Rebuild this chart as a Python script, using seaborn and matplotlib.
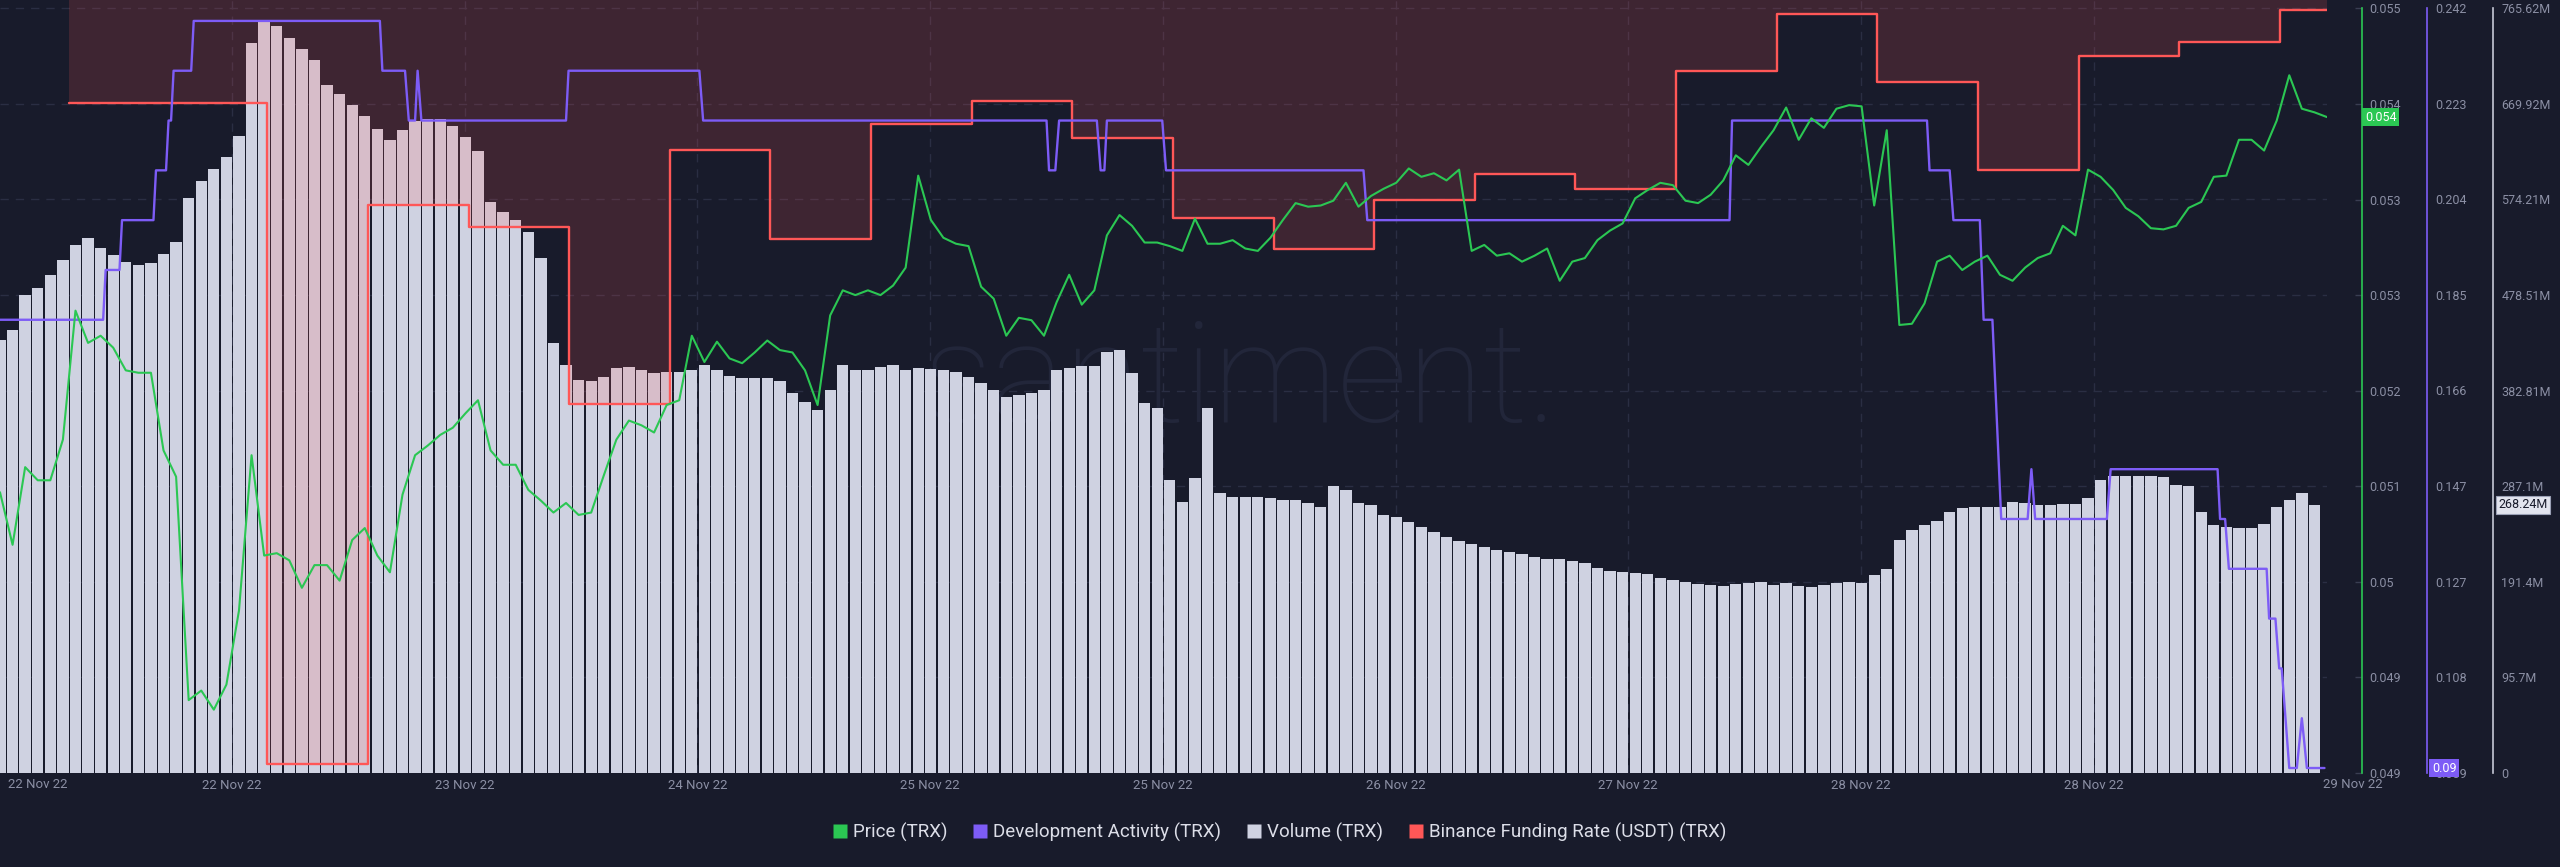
import numpy as np
import seaborn as sns
import matplotlib.pyplot as plt
import matplotlib.transforms as mtransforms
from matplotlib.lines import Line2D

# TRX, hourly samples; hour 0 = left edge of the chart
hours = list(range(186))

price = [
    0.05098, 0.05054, 0.05119, 0.05108, 0.05108, 0.05142, 0.05250, 0.05223, 0.05229, 0.05219,
    0.05200, 0.05198, 0.05198, 0.05133, 0.05111, 0.04924, 0.04932, 0.04916, 0.04937, 0.04999,
    0.05129, 0.05045, 0.05047, 0.05041, 0.05018, 0.05037, 0.05037, 0.05024, 0.05058, 0.05068,
    0.05045, 0.05031, 0.05096, 0.05129, 0.05137, 0.05146, 0.05152, 0.05164, 0.05175, 0.05133,
    0.05121, 0.05121, 0.05100, 0.05091, 0.05081, 0.05089, 0.05079, 0.05081, 0.05112, 0.05142,
    0.05158, 0.05154, 0.05148, 0.05171, 0.05175, 0.05229, 0.05207, 0.05224, 0.05210, 0.05206,
    0.05215, 0.05225, 0.05217, 0.05215, 0.05200, 0.05171, 0.05246, 0.05267, 0.05263, 0.05267,
    0.05263, 0.05271, 0.05286, 0.05363, 0.05326, 0.05311, 0.05306, 0.05304, 0.05270, 0.05260,
    0.05229, 0.05244, 0.05242, 0.05229, 0.05257, 0.05280, 0.05255, 0.05267, 0.05313, 0.05330,
    0.05321, 0.05307, 0.05307, 0.05304, 0.05300, 0.05327, 0.05306, 0.05306, 0.05309, 0.05302,
    0.05300, 0.05311, 0.05326, 0.05340, 0.05337, 0.05338, 0.05342, 0.05357, 0.05337, 0.05346,
    0.05352, 0.05357, 0.05369, 0.05362, 0.05365, 0.05359, 0.05368, 0.05300, 0.05305, 0.05296,
    0.05298, 0.05291, 0.05296, 0.05302, 0.05275, 0.05291, 0.05294, 0.05309, 0.05317, 0.05323,
    0.05344, 0.05351, 0.05357, 0.05355, 0.05342, 0.05340, 0.05347, 0.05359, 0.05380, 0.05372,
    0.05387, 0.05401, 0.05420, 0.05393, 0.05411, 0.05403, 0.05419, 0.05422, 0.05421, 0.05338,
    0.05401, 0.05238, 0.05239, 0.05256, 0.05291, 0.05296, 0.05284, 0.05291, 0.05296, 0.05280,
    0.05275, 0.05286, 0.05294, 0.05298, 0.05321, 0.05313, 0.05368, 0.05362, 0.05351, 0.05336,
    0.05329, 0.05319, 0.05318, 0.05321, 0.05336, 0.05341, 0.05362, 0.05363, 0.05393, 0.05393,
    0.05384, 0.05409, 0.05447, 0.05419, 0.05416, 0.05412]

# volume in millions, one bar per hour
volume_m = [
    433, 443, 478, 485, 498, 513, 528, 535, 525, 518,
    511, 508, 510, 519, 531, 575, 592, 604, 617, 638,
    731, 753, 748, 736, 725, 714, 689, 680, 669, 658,
    645, 634, 644, 653, 655, 655, 648, 637, 623, 571,
    561, 553, 541, 515, 430, 408, 393, 392, 396, 405,
    406, 403, 400, 401, 401, 403, 408, 403, 397, 395,
    395, 395, 392, 380, 371, 363, 383, 408, 403, 403,
    406, 408, 403, 405, 404, 403, 401, 396, 390, 383,
    376, 378, 380, 383, 403, 405, 407, 407, 421, 423,
    400, 370, 365, 293, 271, 295, 365, 280, 276, 276,
    276, 275, 273, 273, 270, 266, 287, 283, 270, 268,
    258, 256, 251, 246, 241, 236, 232, 229, 226, 223,
    221, 219, 216, 214, 214, 212, 210, 205, 202, 201,
    200, 199, 195, 193, 191, 189, 188, 187, 189, 190,
    191, 188, 190, 187, 186, 188, 190, 191, 190, 198,
    204, 233, 243, 248, 252, 261, 265, 266, 266, 266,
    271, 270, 268, 268, 269, 269, 275, 293, 297, 297,
    297, 297, 296, 288, 287, 261, 248, 246, 245, 245,
    249, 266, 273, 280, 268.24]

dev_hours = [0, 8.2, 8.4, 9.5, 9.7, 12.2, 12.4, 13.2, 13.4, 13.6, 13.8, 15.2, 15.4, 30.2, 30.4,
             32.2, 32.5, 33.0, 33.2, 33.5, 45.0, 45.2, 55.6, 55.9, 83.2, 83.4, 83.9, 84.2, 87.2,
             87.5, 87.8, 88.0, 92.4, 92.7, 108.4, 108.7, 137.5, 137.7, 153.2, 153.4, 155.0, 155.3,
             157.4, 157.7, 158.4, 159.1, 161.2, 161.5, 161.8, 167.5, 167.8, 176.3, 176.5, 176.9,
             177.2, 180.2, 180.4, 180.9, 181.2, 181.4, 182.0, 182.6, 183.0, 183.4, 184.8]
dev_activity = [0.18, 0.18, 0.19, 0.19, 0.20, 0.20, 0.21, 0.21, 0.22, 0.22, 0.23, 0.23, 0.24, 0.24, 0.23,
                0.23, 0.22, 0.22, 0.23, 0.22, 0.22, 0.23, 0.23, 0.22, 0.22, 0.21, 0.21, 0.22, 0.22,
                0.21, 0.21, 0.22, 0.22, 0.21, 0.21, 0.20, 0.20, 0.22, 0.22, 0.21, 0.21, 0.20,
                0.20, 0.18, 0.18, 0.14, 0.14, 0.15, 0.14, 0.14, 0.15, 0.15, 0.14, 0.14,
                0.13, 0.13, 0.12, 0.12, 0.11, 0.11, 0.09, 0.09, 0.10, 0.09, 0.09]

# binance funding rate (%), changes every 8h
funding_hours = [5.5, 21.25, 29.25, 37.25, 45.25, 53.25, 61.25, 69.25, 77.25, 85.25, 93.25, 101.25,
                 109.25, 117.25, 125.25, 133.25, 141.25, 149.25, 157.25, 165.25, 173.25, 181.25, 185]
funding_rate = [0.00644, -0.0200, 0.00236, 0.00148, -0.0056, 0.00456, 0.0010, 0.0056, 0.00652, 0.00504,
                0.00184, 0.0006, 0.00256, 0.0036, 0.0030, 0.00772, 0.0100, 0.00728, 0.00376, 0.00832,
                0.00888, 0.01016, 0.01016]

date_ticks = [18.45, 36.95, 55.45, 73.95, 92.45, 110.95, 129.45, 147.95, 166.45]
date_labels = ['22 Nov 22', '23 Nov 22', '24 Nov 22', '25 Nov 22', '25 Nov 22',
               '26 Nov 22', '27 Nov 22', '28 Nov 22', '28 Nov 22']

price_ticks = [0.04863 + 0.0008 * k for k in range(9)]
price_labels = ['0.049', '0.049', '0.05', '0.051', '0.052', '0.053', '0.053', '0.054', '0.055']
dev_ticks = [0.0890 + 0.0192 * k for k in range(9)]
dev_labels = ['0.089', '0.108', '0.127', '0.147', '0.166', '0.185', '0.204', '0.223', '0.242']
vol_ticks = [95.7025 * k for k in range(9)]
vol_labels = ['0', '95.7M', '191.4M', '287.1M', '382.81M', '478.51M', '574.21M', '669.92M', '765.62M']

BG = '#181b2b'
GRID = '#2a2e43'
GREEN = '#2bc753'
PURPLE = '#7d5cf6'
RED = '#ff5757'
VOLC = '#cfd2e1'
TXT = '#8b8fa4'

sns.set_theme(style='dark', rc={'axes.facecolor': BG, 'figure.facecolor': BG, 'axes.edgecolor': BG,
                                'text.color': TXT, 'xtick.color': TXT, 'ytick.color': TXT})
plt.rcParams['font.family'] = ['Roboto', 'DejaVu Sans']

fig = plt.figure(figsize=(25.6, 8.67), dpi=100)
ax = fig.add_axes([0, 94 / 867, 2327 / 2560, 773 / 867])
ax.set_facecolor(BG)

# twins, created bottom to top
axf = ax.twinx()
axd = ax.twinx()
axp = ax.twinx()

# watermark + volume bars
ax.text(0.533, 0.454, 'santiment.', transform=ax.transAxes, ha='center', va='baseline',
        fontsize=100, color='#22263a', fontweight='light', zorder=0.6)
ax.bar(hours[:185], volume_m, width=0.9, color=VOLC, lw=0, zorder=1)
ax.set_ylim(0, 773.63)
ax.set_axisbelow(True)
ax.grid(True, axis='both', ls=(0, (6, 5)), color=GRID, lw=1)

# funding rate
sns.lineplot(x=funding_hours, y=funding_rate, ax=axf, color=RED, lw=1.7, drawstyle='steps-post', estimator=None)
axf.fill_between(funding_hours, funding_rate, 0.01056, step='post', color=RED, alpha=0.17, lw=0)
axf.set_ylim(-0.02036, 0.01056)
axf.set_yticks([])

# development activity
sns.lineplot(x=dev_hours, y=dev_activity, ax=axd, color=PURPLE, lw=1.7, estimator=None)
axd.set_ylim(0.0890, 0.2442)
axd.set_yticks(dev_ticks, dev_labels)
axd.spines['right'].set_position(('axes', 1.04297))
axd.spines['right'].set_color(PURPLE)
axd.spines['right'].set_bounds(0.0890, 0.2426)
axd.tick_params(axis='y', length=0, pad=6, labelsize=9, labelcolor=TXT)

# price
sns.lineplot(x=hours, y=price, ax=axp, color=GREEN, lw=1.5, estimator=None)
axp.set_ylim(0.04863, 0.05510)
axp.set_yticks(price_ticks, price_labels)
axp.spines['right'].set_position(('axes', 1.01504))
axp.spines['right'].set_color(GREEN)
axp.spines['right'].set_bounds(0.04863, 0.05503)
axp.tick_params(axis='y', direction='in', length=5, width=1, color='#3a3e52', pad=5, labelsize=9, labelcolor=TXT)

for a in (ax, axf, axd, axp):
    a.set_xlabel('')
    a.set_ylabel('')
    for s in ('top', 'left', 'bottom'):
        a.spines[s].set_visible(False)
    a.spines['right'].set_linewidth(1.2)
axf.spines['right'].set_visible(False)

# volume axis on the far right
ax.yaxis.tick_right()
ax.set_yticks(vol_ticks, vol_labels)
ax.spines['right'].set_visible(True)
ax.spines['right'].set_position(('axes', 1.07134))
ax.spines['right'].set_color('#c5c8d6')
ax.spines['right'].set_bounds(0, 765.62)
ax.tick_params(axis='y', length=0, pad=6, labelsize=9, labelcolor=TXT)

ax.set_xlim(0, 185)
ax.set_xticks(date_ticks, date_labels)
ax.tick_params(axis='x', length=0, pad=4, labelsize=9.5, labelcolor=TXT)
xt = mtransforms.blended_transform_factory(ax.transData, ax.transAxes)
ax.text(3.0, -0.0155, '22 Nov 22', transform=xt, ha='center', va='center', fontsize=9.5, color=TXT)
ax.text(187.07, -0.0155, '29 Nov 22', transform=xt, ha='center', va='center', fontsize=9.5, color=TXT)

# last-value tags
tp = mtransforms.blended_transform_factory(axp.transAxes, axp.transData)
axp.text(1.0163, price[-1], '0.054', transform=tp, ha='left', va='center', fontsize=9, color='white',
         bbox=dict(boxstyle='square,pad=0.2', fc=GREEN, ec='none'), clip_on=False, zorder=5)
td = mtransforms.blended_transform_factory(axd.transAxes, axd.transData)
axd.text(1.0451, dev_activity[-1], '0.09', transform=td, ha='left', va='center', fontsize=9, color='white',
         bbox=dict(boxstyle='square,pad=0.2', fc=PURPLE, ec='none'), clip_on=False, zorder=5)
tv = mtransforms.blended_transform_factory(ax.transAxes, ax.transData)
ax.text(1.0736, volume_m[-1], '268.24M', transform=tv, ha='left', va='center', fontsize=9, color=BG,
        bbox=dict(boxstyle='square,pad=0.2', fc='#e2e4ee', ec='#9aa0b5', lw=0.8), clip_on=False, zorder=5)

handles = [Line2D([0], [0], marker='s', ls='none', markersize=10, markerfacecolor=c, markeredgecolor='none')
           for c in (GREEN, PURPLE, VOLC, RED)]
fig.legend(handles, ['Price (TRX)', 'Development Activity (TRX)', 'Volume (TRX)', 'Binance Funding Rate (USDT) (TRX)'],
           loc='center', bbox_to_anchor=(0.5, 35 / 867), ncol=4, frameon=False, fontsize=13.5,
           labelcolor='#dcdee8', handlelength=0.7, handletextpad=0.35, columnspacing=1.4)

fig.savefig('out.png', dpi=100, facecolor=BG)
plt.close()
